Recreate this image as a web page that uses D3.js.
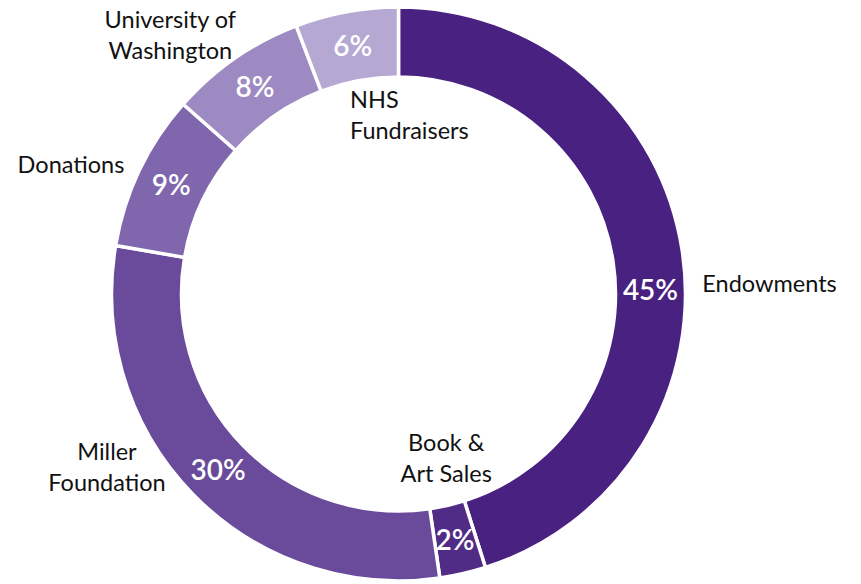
<!DOCTYPE html>
<html>
<head>
<meta charset="utf-8">
<script src="https://cdn.jsdelivr.net/npm/d3@7"></script>
<style>
  body { margin: 0; background: #fff; }
  text { font-family: Lato, "Open Sans", sans-serif; }
</style>
</head>
<body>
<div id="chart"></div>
<script>
// slice data, clockwise from 12 o'clock
const categories = ["Endowments", "Book & Art Sales", "Miller Foundation", "Donations", "University of Washington", "NHS Fundraisers"];
const values = [45.1, 2.6, 30.0, 8.8, 7.7, 5.8];
const pctLabels = ["45%", "2%", "30%", "9%", "8%", "6%"];
const nameLines = [["Endowments"], ["Book &", "Art Sales"], ["Miller", "Foundation"], ["Donations"], ["University of", "Washington"], ["NHS", "Fundraisers"]];
const colors = ["#482181", "#512c87", "#6a4b9b", "#7f66ad", "#9e8ac2", "#b5a8d3"];

const width = 861, height = 584;
const cx = 398.5, cy = 294;
const outerR = 287, innerR = 217;

// where the name labels sit (polar, degrees from top clockwise)
const namePlace = [
  {a: 88.1, r: 304, anchor: "start"},
  {a: 163.8, r: 171, anchor: "middle"},
  {a: 239.3, r: 339, anchor: "middle"},
  {a: 291.5, r: 352, anchor: "middle"},
  {a: 318.6, r: 345, anchor: "middle"},
  {a: 344.8, r: 185, anchor: "start"}
];
// nudge for the percent label (degrees)
const pctShift = [8, 0, 0, 0, 0, 0];

const data = categories.map((c, i) => ({name: c, value: values[i], i: i}));

const svg = d3.select("#chart").append("svg")
  .attr("width", width)
  .attr("height", height);

const g = svg.append("g").attr("transform", `translate(${cx},${cy})`);

const pie = d3.pie().sort(null).value(d => d.value);
const arc = d3.arc().innerRadius(innerR).outerRadius(outerR);
const arcs = pie(data);

g.selectAll("path.slice")
  .data(arcs)
  .enter()
  .append("path")
  .attr("class", "slice")
  .attr("d", arc)
  .attr("fill", d => colors[d.data.i])
  .attr("stroke", "#fff")
  .attr("stroke-width", 3.5);

const midR = (innerR + outerR) / 2;
g.selectAll("text.pct")
  .data(arcs)
  .enter()
  .append("text")
  .attr("class", "pct")
  .attr("transform", d => {
    const a = (d.startAngle + d.endAngle) / 2 + pctShift[d.data.i] * Math.PI / 180;
    const p = d3.pointRadial(a, midR);
    return `translate(${p[0]},${p[1]})`;
  })
  .attr("text-anchor", "middle")
  .attr("dy", "0.36em")
  .attr("fill", "#fff")
  .style("font-size", "28px")
  .style("font-weight", 600)
  .text(d => pctLabels[d.data.i]);

const names = g.selectAll("text.name")
  .data(data)
  .enter()
  .append("text")
  .attr("class", "name")
  .attr("transform", d => {
    const pl = namePlace[d.i];
    const p = d3.pointRadial(pl.a * Math.PI / 180, pl.r);
    return `translate(${p[0]},${p[1]})`;
  })
  .attr("text-anchor", d => namePlace[d.i].anchor)
  .attr("fill", "#111")
  .style("font-size", "23.5px");

names.selectAll("tspan")
  .data(d => nameLines[d.i].map((t, k, arr) => ({t: t, k: k, n: arr.length})))
  .enter()
  .append("tspan")
  .attr("x", 0)
  .attr("y", d => (d.k - (d.n - 1) / 2) * 31)
  .attr("dy", "0.35em")
  .text(d => d.t);
</script>
</body>
</html>
